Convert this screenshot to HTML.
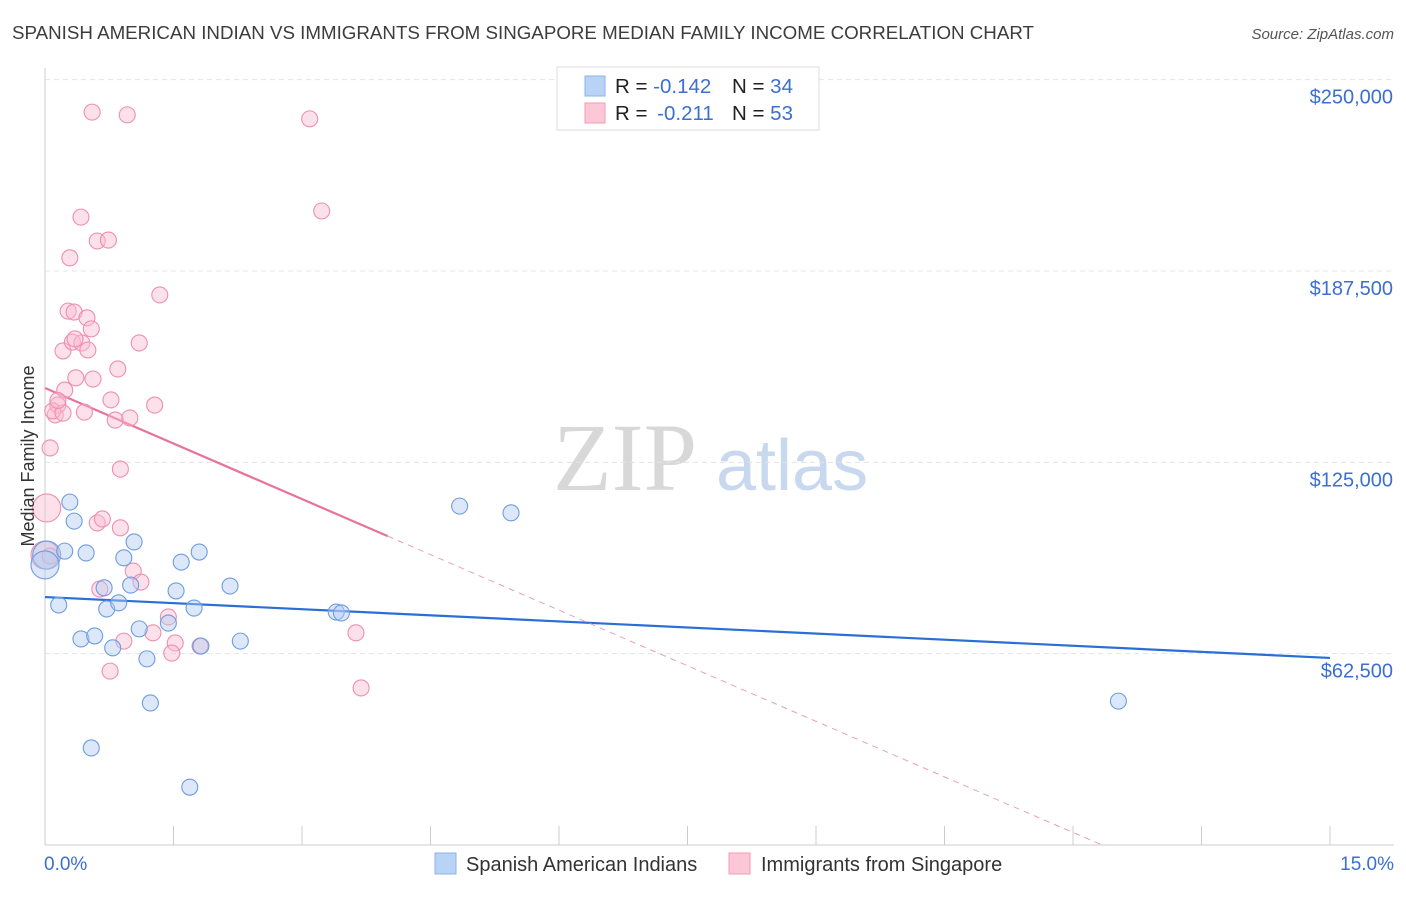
<!DOCTYPE html>
<html><head><meta charset="utf-8">
<style>
body{margin:0;background:#fff;font-family:"Liberation Sans",sans-serif;}
svg text{font-family:"Liberation Sans",sans-serif;}
</style></head>
<body>
<svg id="chart" width="1406" height="892" xmlns="http://www.w3.org/2000/svg">
<text x="12" y="39" font-size="18.5" fill="#3c3c3c" textLength="1022" lengthAdjust="spacingAndGlyphs">SPANISH AMERICAN INDIAN VS IMMIGRANTS FROM SINGAPORE MEDIAN FAMILY INCOME CORRELATION CHART</text>
<text x="1394" y="39" font-size="15" fill="#555" text-anchor="end" font-style="italic">Source: ZipAtlas.com</text>
<g>
<text x="553" y="490" font-size="96" fill="#d8d8d8" font-family="Liberation Serif" style="font-family:'Liberation Serif',serif">ZIP</text>
<text x="716" y="490" font-size="72" fill="#c8d8ee">atlas</text>
</g>
<g id="grid"></g>
<g id="axes"></g>
<g id="lines"></g>
<g id="points"></g>
<text transform="translate(34,456) rotate(-90)" font-size="18" fill="#333" text-anchor="middle">Median Family Income</text>
<g>
<rect x="557" y="67" width="262" height="63" fill="#fff" stroke="#ddd"/>
<rect x="585" y="76" width="20" height="20" fill="#b9d3f5" stroke="#8ab3ea"/>
<rect x="585" y="103" width="20" height="20" fill="#fcc8d7" stroke="#f09ab3"/>
<text x="615" y="93" font-size="20.5" fill="#222">R = <tspan fill="#3b6fd0">-0.142</tspan><tspan x="732">N = </tspan><tspan fill="#3b6fd0">34</tspan></text>
<text x="615" y="120" font-size="20.5" fill="#222">R = <tspan fill="#3b6fd0" dx="4">-0.211</tspan><tspan x="732">N = </tspan><tspan fill="#3b6fd0">53</tspan></text>
</g>
<g>
<rect x="435" y="853" width="21" height="21" fill="#b9d3f5" stroke="#8ab3ea"/>
<text x="466" y="871" font-size="20" fill="#333">Spanish American Indians</text>
<rect x="729" y="853" width="21" height="21" fill="#fcc8d7" stroke="#f09ab3"/>
<text x="761" y="871" font-size="20" fill="#333">Immigrants from Singapore</text>
</g>
</svg>
<script>
const yTicks=[62500,125000,187500,250000];
const yTickLabels=["$62,500","$125,000","$187,500","$250,000"];
const xTickCount=11;
const blueX=[0.02,0.0,0.16,0.29,0.34,0.23,0.48,0.42,0.58,0.69,0.72,0.79,0.86,0.92,1.0,1.04,1.10,1.19,1.23,1.44,1.53,1.59,1.74,1.80,1.82,2.16,2.28,1.69,0.54,3.40,3.46,4.84,5.44,12.53];
const blueY=[94700,91500,78400,112000,105800,96000,95400,67300,68300,84000,77100,64400,79100,93800,84900,99000,70600,60800,46400,72500,83000,92400,77400,95700,65000,84600,66600,18900,31700,76100,75800,110700,108500,47000];
const pinkX=[0.02,0.0,0.06,0.12,0.15,0.09,0.21,0.27,0.29,0.42,0.34,0.32,0.49,0.43,0.50,0.54,0.46,0.36,0.23,0.56,0.61,0.74,0.55,0.96,0.85,0.77,0.82,0.99,1.10,1.34,1.28,0.88,0.61,0.67,0.88,0.64,1.03,1.12,0.92,0.76,1.26,1.44,1.52,1.48,1.81,3.09,3.23,3.63,3.69,0.35,0.21,0.06,0.15];
const pinkY=[110100,94700,129700,140500,143700,141800,161400,174400,191800,205100,174100,164300,172200,164000,161700,168600,141400,152600,148600,152200,197300,197600,239400,238500,155500,145400,138800,139500,164000,179700,143700,122800,105200,106500,103600,83600,89500,85900,66600,56800,69300,74500,66000,62700,65000,237200,207100,69300,51300,165300,141100,94400,145200];
const blueTrend=[81000,61100];
const pinkTrend=[149300,-12100];
const X0=45,X1=1330,Y0=845,YPER=191.33/62500;
const sx=v=>X0+(v/15)*(X1-X0);
const sy=v=>Y0-v*YPER;
const NS="http://www.w3.org/2000/svg";
function mk(p,tag,a){const e=document.createElementNS(NS,tag);for(const k in a)e.setAttribute(k,a[k]);p.appendChild(e);return e;}
const grid=document.getElementById('grid'),axes=document.getElementById('axes');
yTicks.forEach((t,i)=>{
 const l=mk(grid,'line',{x1:X0,x2:1394,y1:sy(t),y2:sy(t),stroke:'#e4e4e4','stroke-dasharray':'5,4'});
 
 
 const tx=mk(axes,'text',{x:1393,y:sy(t)+24,'font-size':20,fill:'#3b6fd0','text-anchor':'end'});
 tx.textContent=yTickLabels[i];
 
 
});
mk(axes,'line',{x1:X0,x2:X0,y1:68,y2:Y0,stroke:'#ccc'});
mk(axes,'line',{x1:X0,x2:1394,y1:Y0,y2:Y0,stroke:'#ccc'});
for(let i=0;i<xTickCount;i++){const x=sx(i*1.5);const t=mk(axes,'line',{x1:x,x2:x,y1:826,y2:Y0,stroke:'#ccc'});}
const xl=mk(axes,'text',{x:44,y:870,'font-size':19,fill:'#3b6fd0'});xl.textContent='0.0%';

const xr=mk(axes,'text',{x:1394,y:870,'font-size':19,fill:'#3b6fd0','text-anchor':'end'});xr.textContent='15.0%';

const pts=document.getElementById('points');
function dots(X,Y,fill,stroke,name){X.forEach((x,i)=>{const big=(x<0.03);const c=mk(pts,'circle',{cx:sx(x),cy:sy(Y[i]),r:big?14:8,fill:fill,'fill-opacity':0.45,stroke:stroke,'stroke-width':1.1});});}
dots(pinkX,pinkY,'#fbbdd0','#ee8fae','pink-point');
dots(blueX,blueY,'#b2cdf2','#6d9de0','blue-point');
const ln=document.getElementById('lines');
const bl=mk(ln,'line',{x1:sx(0),y1:sy(blueTrend[0]),x2:sx(15),y2:sy(blueTrend[1]),stroke:'#2a6fd6','stroke-width':2.2});

const pf=x=>pinkTrend[0]+pinkTrend[1]*x;
const pl=mk(ln,'line',{x1:sx(0),y1:sy(pf(0)),x2:sx(4),y2:sy(pf(4)),stroke:'#e8739a','stroke-width':2.2});

const xe=-pinkTrend[0]/pinkTrend[1];
const pd=mk(ln,'line',{x1:sx(4),y1:sy(pf(4)),x2:sx(xe),y2:sy(0),stroke:'#e8a0b8','stroke-width':1,'stroke-dasharray':'6,5'});

</script>
</body></html>
